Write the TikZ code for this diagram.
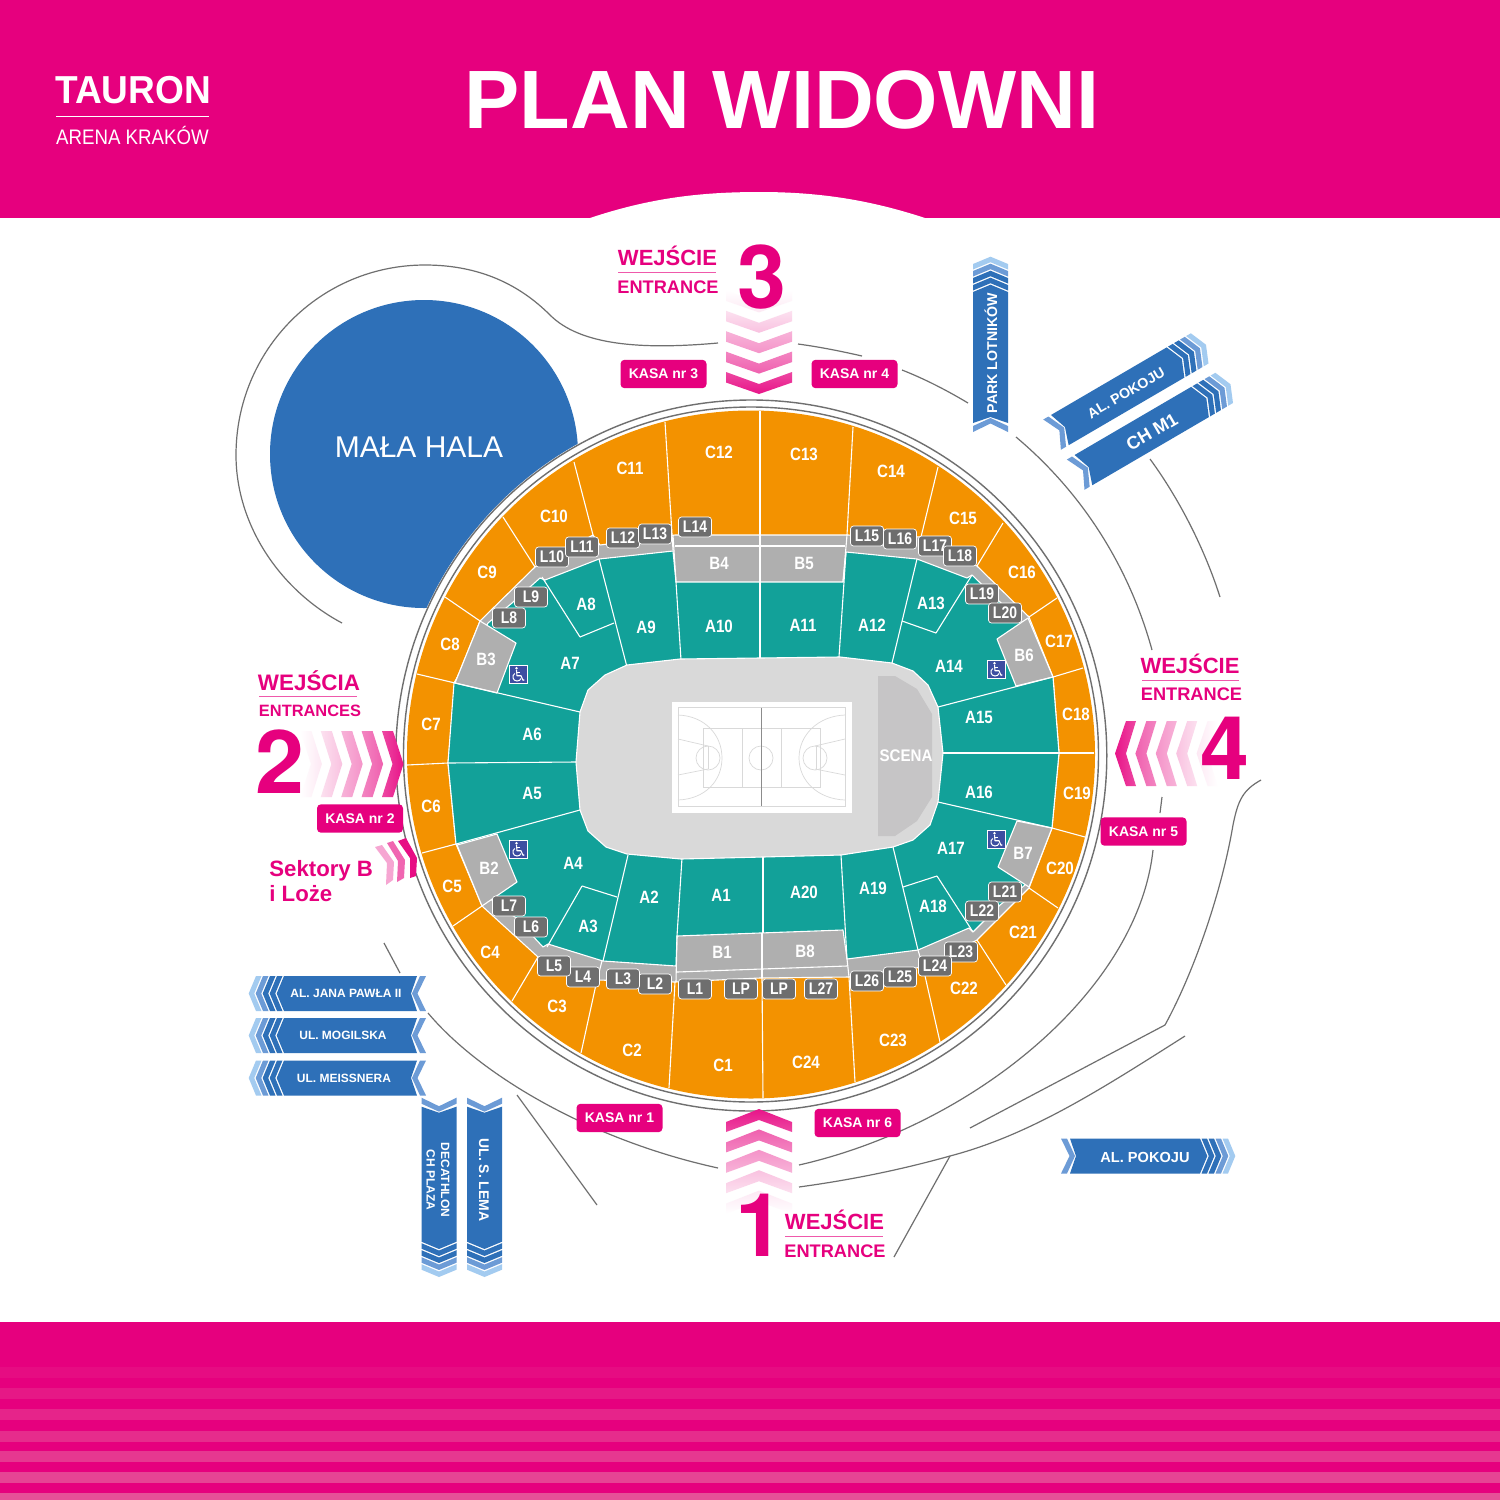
\documentclass[tikz,border=0pt]{standalone}
\usepackage{fontspec}
\usepackage{graphicx}
\setmainfont{Liberation Sans}
\newfontfamily\heros{TeX Gyre Heros}
\definecolor{pk}{HTML}{E6007E}
\definecolor{stripe}{HTML}{E65098}
\definecolor{orng}{HTML}{F39200}
\definecolor{teal2}{HTML}{12A199}
\definecolor{band}{HTML}{AFAFAF}
\definecolor{court}{HTML}{D9D9D9}
\definecolor{stagec}{HTML}{C6C5C6}
\definecolor{rdblue}{HTML}{2E70B8}
\definecolor{rdmid}{HTML}{6C9BD6}
\definecolor{rdlight}{HTML}{A3CBF0}
\definecolor{lbox}{HTML}{6E6E6E}
\definecolor{road}{HTML}{6F6F6F}
\definecolor{wcblue}{HTML}{3D4EA1}
\newcommand{\fz}[1]{\fontsize{#1}{#1}\selectfont}
\tikzset{
  seplines/.style={draw=white,line width=0.55pt,line join=round},
  roadline/.style={draw=road,line width=0.6pt},
  courtline/.style={draw=black!15,line width=0.35pt},
  seat/.style={text=white,inner sep=0pt,font=\fz{8.9}\bfseries},
  loge/.style={text=white,fill=lbox,draw=white,line width=0.35pt,rounded corners=1.5pt,inner sep=0pt,minimum width=16.5pt,minimum height=10pt,font=\fz{8.4}\bfseries},
  kasa/.style={text=white,fill=pk,rounded corners=2pt,inner sep=0pt,minimum width=43pt,minimum height=14.2pt,font=\fz{7}\bfseries},
  ent/.style={text=pk,inner sep=0pt,anchor=base,font=\fz{11}\bfseries},
  entb/.style={text=pk,inner sep=0pt,anchor=base,font=\fz{9.1}\bfseries},
  num/.style={text=pk,inner sep=0pt,font=\fz{44}\heros\bfseries},
  sign/.style={text=white,inner sep=0pt,font=\fz{6}\bfseries},
  wc/.pic={
    \fill[wcblue,draw=white,line width=0.25pt] (-9,-9) rectangle (9,9);
    \fill[white] (-1.5,-6.3) circle (1.3);
    \draw[white,line width=0.55pt,line join=round] (-1.5,-4.5) -- (-1,1.2) -- (3,1.2) -- (5,5.8) -- (6.3,5.3);
    \draw[white,line width=0.5pt] (-1.2,-2) -- (2.4,-2);
    \draw[white,line width=0.5pt] (-3.2,-1) .. controls (-6.5,1) and (-5.3,6.5) .. (-1,6.5) .. controls (1,6.5) and (2.4,5.6) .. (3,4);
  }
}
\newcommand{\roadsign}[4]{%
  \begin{scope}[shift={(#1,#2)},rotate=#3]
    \fill[rdblue] (0,-17.5)--(#4,-17.5)--({#4-6},0)--(#4,17.5)--(0,17.5)--(-7.3,0)--cycle;
    \fill[rdmid] ({#4+3},-17.5)--({#4+9},-17.5)--({#4+0.5},0)--({#4+9},17.5)--({#4+3},17.5)--({#4-5},0)--cycle;
    \foreach \k/\cc in {1/rdblue,2/rdblue,3/rdmid,4/rdlight}{
      \fill[\cc] ({-7*\k},-17.5)--({-7*\k+5.5},-17.5)--({-7*\k-1.8},0)--({-7*\k+5.5},17.5)--({-7*\k},17.5)--({-7*\k-7.3},0)--cycle;
    }
  \end{scope}}
\begin{document}
\begin{tikzpicture}[x=0.5pt,y=-0.5pt]
\useasboundingbox (0,0) rectangle (1500,1500);
\fill[white] (0,0) rectangle (1500,1500);
% header and footer
\fill[pk] (0,0) rectangle (1500,218);
\fill[white] (590,218) .. controls (650,198) and (700,192) .. (760,192) .. controls (820,192) and (870,200) .. (925,218) -- cycle;
\node[text=white,inner sep=0pt,font=\fz{41.4}\bfseries] (title) at (782,100) {PLAN WIDOWNI};
\node[text=white,inner sep=0pt,font=\fz{19.5}\bfseries] (tauron) at (133,90.5) {\scalebox{.95}[1]{TAURON}};
\coordinate (ruleL) at (56,116.5); \coordinate (ruleR) at (209,116.5);
\draw[white,line width=0.4pt] (ruleL) -- (ruleR);
\node[text=white,inner sep=0pt,font=\fz{10.5}] (arena) at (132.5,135) {\scalebox{.89}[1]{ARENA KRAKÓW}};
\fill[pk] (0,1322) rectangle (1500,1500);
\foreach \yy/\pc in {1367/15,1388/30,1409/45,1431/55,1451/70,1472/85,1493/100}{
  \fill[stripe!\pc!pk] (0,\yy) rectangle (1500,{\yy+10.7});
}
% small hall
\fill[rdblue] (424,454) circle (154);
\fill[white] (751,755) circle (356);
\node[text=white,inner sep=0pt,font=\fz{15}] (mala) at (419,447) {MAŁA HALA};
% rings
\draw[roadline,line width=0.7pt] (751.3,755.5) circle (355.5);
\draw[roadline,line width=0.7pt] (751,754.5) circle (347.5);
\fill[orng] (751,754.5) circle (344);
% seating band
\fill[band,seplines] (675,535)--(847,535)--(921,537)--(977,566)--(1029,617)--(1053,677)--(1059,753)--(1052,828)--(1029,888)--(977,940)--(923,967)--(849,977)--(760,978)--(675,982)--(597,980)--(538,957)--(482,906)--(456,844)--(448,763)--(455,683)--(480,621)--(535,567)--(593,535)--(600,545)--cycle;
% teal ring
\fill[teal2,seplines] (676,582)--(843,582)--(846,552)--(917,559)--(967,578)--(972,575)--(1000,602)--(1020,620)--(1053,677)--(1059,753)--(1052,828)--(1025,885)--(1000,905)--(973,932)--(969,928)--(918,950)--(847,959)--(843,930)--(677,936)--(676,966)--(603,961)--(548,944)--(543,947)--(515,917)--(495,905)--(456,844)--(448,763)--(454,683)--(488,623)--(512,603)--(540,578)--(545,580)--(599,559)--(673,551)--cycle;
% B blocks
\fill[band,seplines] (480,621)--(516,643)--(497,693)--(455,683)--cycle;
\fill[band,seplines] (457,845)--(497,834)--(517,882)--(482,906)--cycle;
\fill[band,seplines] (1028,618)--(997,639)--(1016,686)--(1053,677)--cycle;
\fill[band,seplines] (1017,821)--(1052,828)--(1029,887)--(998,867)--cycle;
% lines in the C ring
\foreach \xa/\ya/\xb/\yb in {665/422/673/550,574/462/593/535,503/517/535/567,445/597/480/621,417/674/455/683,407/765/448/763,422/853/456/844,453/926/482/906,512/1001/538/957,581/1053/597/980,669/1088/675/982,763/1098/762/978,855/1082/849/977,940/1042/923/967,1006/985/977/940,1058/908/1029/888,1085/837/1052/828,1094/753/1059/753,1083/668/1053/677,1057/598/1029/617,1003/523/977/566,938/467/921/537,853/427/847/535,760/411/760/535}{
  \draw[seplines] (\xa,\ya) -- (\xb,\yb);
}
% lines in the band
\draw[seplines] (675,546) -- (845,546);
\draw[seplines] (760,535) -- (760,582);
\draw[seplines] (677,972) -- (847,966);
\draw[seplines] (762,933) -- (762,978);
\draw[seplines] (847,535) -- (843,582);
\draw[seplines] (673,535) -- (676,582);
\draw[seplines] (677,936) -- (676,982);
\draw[seplines] (847,959) -- (849,977);
\draw[seplines] (602,961) -- (597,980);
\draw[seplines] (918,950) -- (923,967);
% lines in the teal ring
\foreach \xa/\ya/\xb/\yb in {760/582/760/660,676/582/681/660,599/559/627/667,542/577/580/637,580/637/614/623,455/683/580/712,448/763/576/762,456/844/580/810,628/855/603/961,582/886/617/897,582/886/547/947,682/858/677/936,763/856/763/933,841/855/847/959,893/847/918/950,903/887/937/876,937/876/973/932,938/802/1052/828,943/753/1059/753,938/707/1053/677,892/663/917/559,902/621/936/633,936/633/972/575,839/657/846/552}{
  \draw[seplines] (\xa,\ya) -- (\xb,\yb);
}
% arena floor
\fill[court,seplines] (627,665)--(680,659)--(840,657)--(892,663)--(913,671)--(928,685)--(938,707)--(943,753)--(938,802)--(930,825)--(913,840)--(893,847)--(841,855)--(763,857)--(681,859)--(627,854)--(606,847)--(588,831)--(580,810)--(576,762)--(580,712)--(588,690)--(605,675)--cycle;
\fill[stagec] (878,676)--(895,676)--(917,689)--(932,714)--(932,797)--(917,821)--(895,836)--(878,836)--cycle;
\node[seat,font=\fz{8.4}\bfseries] (scena) at (906,756) {\scalebox{.9}[1]{SCENA}};
% basketball court
\fill[white] (672,702) rectangle (852,813);
\draw[courtline] (678,707.5) rectangle (845,806);
\draw[courtline] (703,728) rectangle (820,787);
\draw[courtline] (742,728) -- (742,787) (781,728) -- (781,787);
\draw[courtline] (708,746) -- (708,769) (816,746) -- (816,769);
\draw[courtline] (761,758) circle (12);
\draw[courtline] (708,758) circle (12);
\draw[courtline] (815,758) circle (12);
\draw[courtline] (678,715) .. controls (705,716) and (722,735) .. (722,758) .. controls (722,781) and (705,799) .. (678,800);
\draw[courtline] (845,715) .. controls (818,716) and (799,735) .. (799,758) .. controls (799,781) and (818,799) .. (845,800);
\draw[courtline] (678,739) -- (708,746) (678,775) -- (708,769) (845,739) -- (815,746) (845,775) -- (815,769);
\draw[black!45,line width=0.5pt] (761,707.5) -- (761,806);
% wheelchair icons
\pic at (518,674.5) {wc};
\pic at (996,669.5) {wc};
\pic at (518,849.5) {wc};
\pic at (996,839.5) {wc};
% seat labels
\foreach \x/\y/\tx in {723/1065/C1,632/1050/C2,557/1006/C3,490/952/C4,452/886/C5,431/806/C6,431/724/C7,450/644/C8,487/572/C9,554/516/C10,630/468/C11,719/452/C12,804/454/C13,891/471/C14,963/518/C15,1022/572/C16,1059/641/C17,1076/714/C18,1077/793/C19,1060/868/C20,1023/932/C21,964/988/C22,893/1040/C23,806/1062/C24,721/895/A1,649/897/A2,588/926/A3,573/863/A4,532/793/A5,532/734/A6,570/663/A7,586/604/A8,646/627/A9,719/626/A10,803/625/A11,872/625/A12,931/603/A13,949/666/A14,979/717/A15,979/792/A16,951/848/A17,933/906/A18,873/888/A19,804/892/A20,722/952/B1,489/868/B2,486/659/B3,719/563/B4,804/563/B5,1024/655/B6,1023/853/B7,805/951/B8}{
  \node[seat] (s\tx) at (\x,\y) {\scalebox{.85}[1]{\tx}};
}
\foreach \x/\y/\tx in {695/989/L1,655/984/L2,623/979/L3,583/977/L4,554/966/L5,531/927/L6,509/906/L7,509/618/L8,531/597/L9,552/557/L10,582/547/L11,623/538/L12,655/534/L13,695/527/L14,867/536/L15,900/539/L16,935/546/L17,960/556/L18,982/594/L19,1005/613/L20,1005/892/L21,982/911/L22,961/952/L23,935/966/L24,900/977/L25,867/981/L26,821/989/L27}{
  \node[loge] (b\tx) at (\x,\y) {\scalebox{.83}[1]{\tx}};
}
\node[loge] (bLPa) at (741,989) {\scalebox{.83}[1]{LP}};
\node[loge] (bLPb) at (779,989) {\scalebox{.83}[1]{LP}};
% roads and paths
\draw[roadline] (342,623) .. controls (280,590) and (236,525) .. (236,455) .. controls (236,350) and (320,265) .. (425,265) .. controls (480,265) and (520,285) .. (550,315) .. controls (580,345) and (640,350) .. (718,343);
\draw[roadline] (798,344) .. controls (820,347) and (840,351) .. (862,356);
\draw[roadline] (902,370) .. controls (925,379) and (948,391) .. (968,403);
\draw[roadline] (1016,437) .. controls (1085,495) and (1130,570) .. (1152,650);
\draw[roadline] (1162,797) -- (1160,813);
\draw[roadline] (1153,850) .. controls (1138,990) and (975,1125) .. (799,1165);
\draw[roadline] (1261,780) .. controls (1243,790) and (1238,800) .. (1233,825) .. controls (1222,890) and (1195,970) .. (1165,1025) -- (970,1128);
\draw[roadline] (1185,1036) .. controls (1100,1090) and (1030,1135) .. (950,1156) .. controls (900,1170) and (850,1180) .. (799,1187);
\draw[roadline] (950,1156) -- (894,1257);
\draw[roadline] (1150,459) .. controls (1180,500) and (1205,550) .. (1220,597);
\draw[roadline] (384,943) -- (400,973);
\draw[roadline] (428,1013) .. controls (480,1075) and (590,1140) .. (718,1168);
\draw[roadline] (517,1095) -- (597,1205);
% entrance 3
\foreach \k/\pa/\pb in {0/92/72,1/62/48,2/42/30,3/24/12,4/9/0}{
  \pgfmathsetmacro\yy{372-20.4*\k}
  \shade[top color=pk!\pb!white,bottom color=pk!\pa!white] (726,\yy)--(759,{\yy+12})--(792,\yy)--(792,{\yy+10.5})--(759,{\yy+22})--(726,{\yy+10.5})--cycle;
}
\node[num] (n3) at (762,277.5) {3};
\node[ent] (w3) at (667.5,265) {WEJŚCIE};
\coordinate (r3a) at (618,272); \coordinate (r3b) at (716,272);
\draw[pk!65!white,line width=0.4pt] (r3a) -- (r3b);
\node[entb] (e3) at (668,293) {ENTRANCE};
% entrance 1
\foreach \k/\pa/\pb in {0/92/72,1/62/48,2/42/30,3/24/12,4/9/0}{
  \pgfmathsetmacro\yy{1109+20.4*\k}
  \shade[bottom color=pk!\pb!white,top color=pk!\pa!white] (759,\yy)--(792,{\yy+13})--(792,{\yy+23})--(759,{\yy+11})--(726,{\yy+23})--(726,{\yy+13})--cycle;
}
\node[num] (n1) at (760,1225.5) {1};
\node[ent] (w1) at (834.5,1229) {WEJŚCIE};
\coordinate (r1a) at (785,1236); \coordinate (r1b) at (883,1236);
\draw[pk!65!white,line width=0.4pt] (r1a) -- (r1b);
\node[entb] (e1) at (835,1257) {ENTRANCE};
% entrance 2
\foreach \k/\pa/\pb in {0/92/72,1/62/48,2/42/30,3/24/12,4/9/0}{
  \pgfmathsetmacro\xx{382-20.4*\k}
  \shade[left color=pk!\pb!white,right color=pk!\pa!white] (\xx,731)--({\xx+11},731)--({\xx+21.5},764)--({\xx+11},797)--(\xx,797)--({\xx+10.5},764)--cycle;
}
\node[num] (n2) at (280,762) {2};
\node[ent,font=\fz{11.2}\bfseries] (w2) at (309,690) {WEJŚCIA};
\coordinate (r2a) at (259,696); \coordinate (r2b) at (357,696);
\draw[pk!65!white,line width=0.4pt] (r2a) -- (r2b);
\node[entb,font=\fz{8.2}\bfseries] (e2) at (310,716) {ENTRANCES};
% sectors arrows
\fill[pk!35!white] (375,847)--(382,845)--(394,862)--(393,880)--(386,885)--(387,863)--cycle;
\fill[pk!60!white] (387,843)--(393,841)--(405,860)--(404,878)--(397,882)--(398,861)--cycle;
\fill[pk!95!white] (398,841)--(406,838)--(417,858)--(416,876)--(410,878)--(410,858)--cycle;
\node[ent,anchor=base west,font=\fz{11.1}\bfseries] (sek1) at (269,876) {Sektory B};
\node[ent,anchor=base west,font=\fz{11.1}\bfseries] (sek2) at (269,901) {i Loże};
% entrance 4
\foreach \k/\pa/\pb in {0/92/72,1/62/48,2/42/30,3/24/12,4/9/0}{
  \pgfmathsetmacro\xx{1115+20.4*\k}
  \shade[right color=pk!\pb!white,left color=pk!\pa!white] (\xx,753.5)--({\xx+11},721)--({\xx+21},721)--({\xx+11},753.5)--({\xx+21},786)--({\xx+11},786)--cycle;
}
\node[num] (n4) at (1224.5,748) {4};
\node[ent] (w4) at (1190,673) {WEJŚCIE};
\coordinate (r4a) at (1142,680); \coordinate (r4b) at (1239,680);
\draw[pk!65!white,line width=0.4pt] (r4a) -- (r4b);
\node[entb] (e4) at (1191.5,700) {ENTRANCE};
% ticket desks
\node[kasa] (k1) at (619.5,1118) {KASA nr 1};
\node[kasa] (k2) at (360,818.5) {KASA nr 2};
\node[kasa] (k3) at (663.5,374) {KASA nr 3};
\node[kasa] (k4) at (854.5,374) {KASA nr 4};
\node[kasa] (k5) at (1143.5,831.5) {KASA nr 5};
\node[kasa] (k6) at (857.5,1123) {KASA nr 6};
% road signs
\roadsign{284}{993.5}{0}{133}
\roadsign{284}{1035.5}{0}{133}
\roadsign{284}{1078}{0}{133}
\node[sign] (r1) at (346,993.5) {AL. JANA PAWŁA II};
\node[sign] (r2) at (343,1035.5) {UL. MOGILSKA};
\node[sign] (r3) at (344,1078) {UL. MEISSNERA};
\roadsign{439}{1241.7}{90}{135}
\roadsign{484.5}{1241.7}{90}{135}
\node[sign,rotate=-90,align=center] (r4) at (438,1180) {DECATHLON\\[1.2pt]CH PLAZA};
\node[sign,rotate=-90,font=\fz{7}\bfseries] (r5) at (484,1180) {UL. S. LEMA};
\roadsign{990.5}{292}{-90}{131}
\node[sign,rotate=90,font=\fz{7.1}\bfseries] (r6) at (991,353) {PARK LOTNIKÓW};
\roadsign{1175.5}{362.5}{210.3}{134}
\node[sign,rotate=30.3,font=\fz{7.1}\bfseries] (r7) at (1126,393) {AL. POKOJU};
\roadsign{1200}{402}{210.3}{135}
\node[sign,rotate=30.3,font=\fz{9}\bfseries] (r8) at (1152,432) {CH M1};
\roadsign{1200}{1156}{180}{130}
\node[sign,font=\fz{7.3}\bfseries] (r9) at (1145,1157) {AL. POKOJU};
\end{tikzpicture}
\end{document}
